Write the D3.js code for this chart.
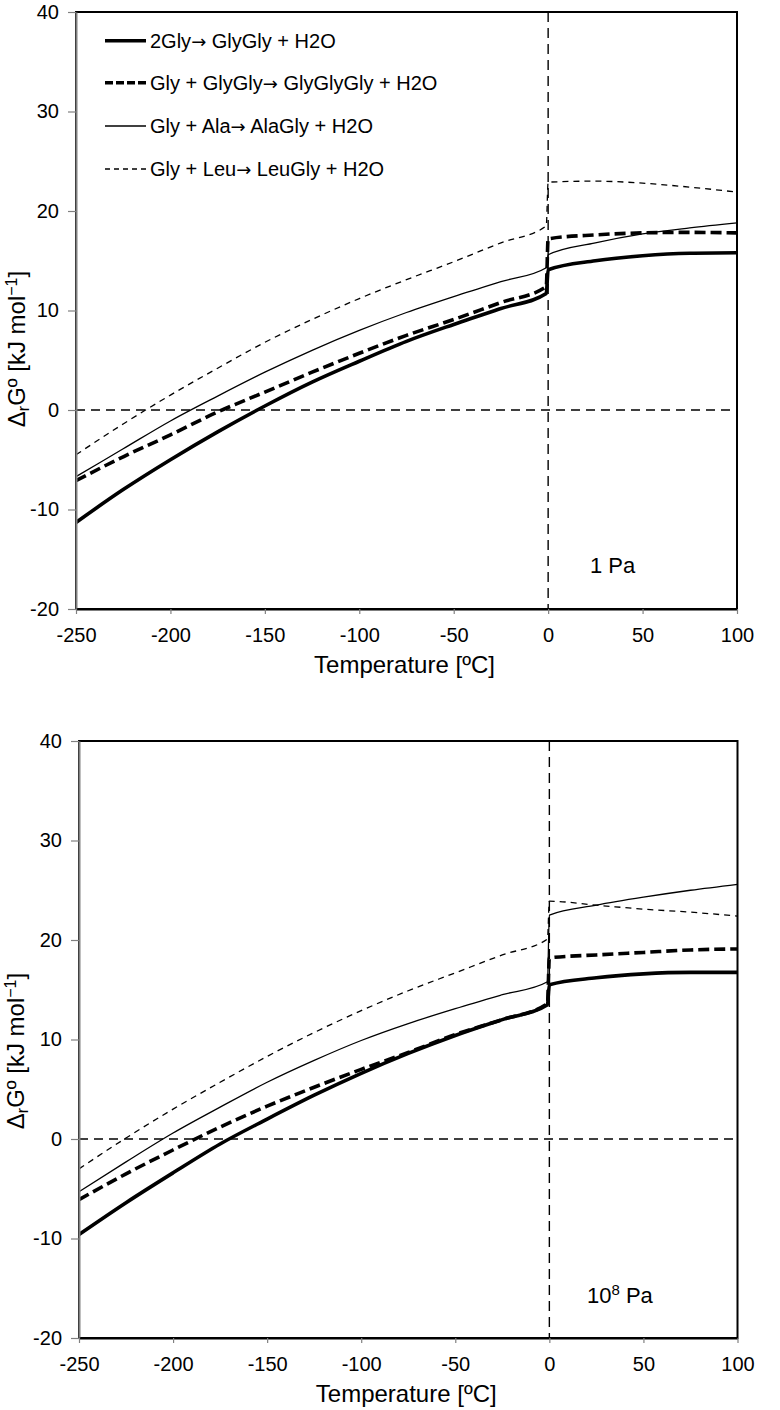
<!DOCTYPE html>
<html>
<head>
<meta charset="utf-8">
<script src="https://cdn.jsdelivr.net/npm/d3@7"></script>
<style>
  html, body { margin: 0; padding: 0; background: #fff; }
  text { font-family: "Liberation Sans", Arial, Helvetica, sans-serif; fill: #000; }
</style>
</head>
<body>
<script>
// ---------- data ----------
const temps = [-250, -225, -200, -175, -150, -125, -100, -75, -50, -25, -1, 0, 25, 50, 75, 100];

const seriesNames = [
  "2Gly\u2192 GlyGly + H2O",
  "Gly + GlyGly\u2192 GlyGlyGly + H2O",
  "Gly + Ala\u2192 AlaGly + H2O",
  "Gly + Leu\u2192 LeuGly + H2O"
];

// 1 Pa panel
const glyGly1Pa    = [-11.3, -8.0, -5.0, -2.2, 0.4, 2.8, 4.9, 6.9, 8.6, 10.2, 11.7, 14.1, 15.0, 15.5, 15.75, 15.8];
const glyGlyGly1Pa = [-7.1, -4.7, -2.5, -0.2, 1.8, 3.8, 5.7, 7.5, 9.1, 10.8, 12.4, 17.2, 17.6, 17.8, 17.85, 17.8];
const alaGly1Pa    = [-6.7, -3.9, -1.1, 1.4, 3.8, 6.0, 8.0, 9.8, 11.4, 12.9, 14.3, 15.6, 16.8, 17.7, 18.3, 18.8];
const leuGly1Pa    = [-4.5, -1.4, 1.5, 4.2, 6.8, 9.1, 11.2, 13.1, 14.9, 16.8, 18.5, 22.9, 23.0, 22.8, 22.4, 21.9];

// 10^8 Pa panel
const glyGly1e8    = [-9.6, -6.4, -3.4, -0.5, 2.0, 4.4, 6.6, 8.6, 10.4, 12.0, 13.5, 15.5, 16.2, 16.6, 16.75, 16.75];
const glyGlyGly1e8 = [-6.1, -3.5, -1.1, 1.2, 3.3, 5.2, 7.0, 8.7, 10.5, 12.0, 13.6, 18.2, 18.5, 18.75, 19.0, 19.1];
const alaGly1e8    = [-5.3, -2.3, 0.6, 3.2, 5.7, 7.9, 9.9, 11.6, 13.1, 14.5, 15.8, 22.5, 23.5, 24.3, 25.0, 25.6];
const leuGly1e8    = [-3.0, 0.1, 3.0, 5.7, 8.3, 10.7, 12.9, 14.9, 16.7, 18.5, 20.1, 23.9, 23.5, 23.1, 22.8, 22.4];

const xTicks = [-250, -200, -150, -100, -50, 0, 50, 100];
const yTicks = [-20, -10, 0, 10, 20, 30, 40];

// ---------- styles ----------
const lineStyles = [
  { width: 3.6, dash: null },
  { width: 3.6, dash: "11,5" },
  { width: 1.3, dash: null },
  { width: 1.3, dash: "6,5" }
];

const svg = d3.select("body").append("svg")
  .attr("width", 780).attr("height", 1410);

function drawPanel(cfg, seriesData, showLegend) {
  const x = d3.scaleLinear().domain([-250, 100]).range([cfg.left, cfg.right]);
  const y = d3.scaleLinear().domain([-20, 40]).range([cfg.bottom, cfg.top]);
  const g = svg.append("g");

  // reference dashed lines
  g.append("line")
    .attr("x1", x(-250)).attr("x2", x(100))
    .attr("y1", y(0)).attr("y2", y(0))
    .attr("stroke", "#000").attr("stroke-width", 1.4)
    .attr("stroke-dasharray", "9,6");
  g.append("line")
    .attr("x1", x(0)).attr("x2", x(0))
    .attr("y1", y(40)).attr("y2", y(-20))
    .attr("stroke", "#000").attr("stroke-width", 1.4)
    .attr("stroke-dasharray", "10,6");

  // series
  const line = d3.line()
    .x((d, i) => x(temps[i]))
    .y(d => y(d))
    .curve(d3.curveMonotoneX);
  seriesData.forEach((vals, k) => {
    const st = lineStyles[k];
    g.append("path")
      .datum(vals)
      .attr("d", line)
      .attr("fill", "none")
      .attr("stroke", "#000")
      .attr("stroke-width", st.width)
      .attr("stroke-linejoin", "round")
      .attr("stroke-dasharray", st.dash);
  });

  // plot border (black)
  g.append("rect")
    .attr("x", x(-250)).attr("y", y(40))
    .attr("width", x(100) - x(-250)).attr("height", y(-20) - y(40))
    .attr("fill", "none").attr("stroke", "#000").attr("stroke-width", 2);

  // y axis
  const yAxis = g.append("g")
    .attr("transform", `translate(${x(-250)},0)`)
    .call(d3.axisLeft(y).tickValues(yTicks).tickSize(8).tickSizeOuter(0).tickPadding(9)
      .tickFormat(d => String(d)));
  yAxis.select(".domain").attr("stroke", "#808080").attr("stroke-width", 2);
  yAxis.selectAll(".tick line").attr("stroke", "#808080").attr("stroke-width", 1.2);
  yAxis.selectAll(".tick text").style("font-size", "20px")
    .style("font-family", "'Liberation Sans', Arial, sans-serif").attr("fill", "#000");

  // x axis
  const xAxis = g.append("g")
    .attr("transform", `translate(0,${y(-20)})`)
    .call(d3.axisBottom(x).tickValues(xTicks).tickSize(5).tickSizeOuter(0).tickPadding(14)
      .tickFormat(d => String(d)));
  xAxis.select(".domain").attr("stroke", "#000").attr("stroke-width", 2);
  xAxis.selectAll(".tick line").attr("stroke", "#808080").attr("stroke-width", 1.2);
  xAxis.selectAll(".tick text").style("font-size", "20px")
    .style("font-family", "'Liberation Sans', Arial, sans-serif").attr("fill", "#000");

  // x title
  g.append("text")
    .attr("x", (x(-250) + x(100)) / 2 - 2)
    .attr("y", y(-20) + 64)
    .attr("text-anchor", "middle")
    .style("font-size", "24px")
    .text("Temperature [\u00BAC]");

  // y title
  const yt = g.append("text")
    .attr("transform", `translate(${cfg.yTitleX},${cfg.yTitleY}) rotate(-90)`)
    .attr("text-anchor", "middle")
    .style("font-size", "24px");
  yt.append("tspan").text("\u0394");
  yt.append("tspan").attr("baseline-shift", "-25%").style("font-size", "16px").text("r");
  yt.append("tspan").text("G\u00BA [kJ mol");
  yt.append("tspan").attr("baseline-shift", "super").style("font-size", "16px").text("\u22121");
  yt.append("tspan").text("]");

  // panel label
  const pl = g.append("text")
    .attr("x", cfg.labelX).attr("y", cfg.labelY)
    .style("font-size", "22px");
  cfg.label.forEach(part => {
    const t = pl.append("tspan").text(part.text);
    if (part.sup) t.attr("baseline-shift", "super").style("font-size", "15px");
  });

  // legend
  if (showLegend) {
    const legY = [40.7, 82.7, 126, 169];
    seriesNames.forEach((name, k) => {
      const st = lineStyles[k];
      g.append("line")
        .attr("x1", 105).attr("x2", 146)
        .attr("y1", legY[k]).attr("y2", legY[k])
        .attr("stroke", "#000").attr("stroke-width", st.width)
        .attr("stroke-dasharray", k === 1 ? "8,3" : (k === 3 ? "5,4" : null));
      const t = g.append("text")
        .attr("x", 150).attr("y", legY[k])
        .attr("dy", "0.35em")
        .style("font-size", "20px");
      name.split("\u2192").forEach((part, j) => {
        if (j > 0) t.append("tspan").style("font-family", "'DejaVu Sans', sans-serif")
          .style("font-size", "18px").text("\u2192");
        t.append("tspan").text(part);
      });
    });
  }
}

drawPanel(
  { left: 76, right: 737, top: 12, bottom: 609, yTitleX: 25, yTitleY: 349,
    labelX: 590, labelY: 573, label: [{ text: "1 Pa" }] },
  [glyGly1Pa, glyGlyGly1Pa, alaGly1Pa, leuGly1Pa], true);

drawPanel(
  { left: 79, right: 737.5, top: 741, bottom: 1338, yTitleX: 24, yTitleY: 1051,
    labelX: 587, labelY: 1303, label: [{ text: "10" }, { text: "8", sup: true }, { text: " Pa" }] },
  [glyGly1e8, glyGlyGly1e8, alaGly1e8, leuGly1e8], false);
</script>
</body>
</html>
